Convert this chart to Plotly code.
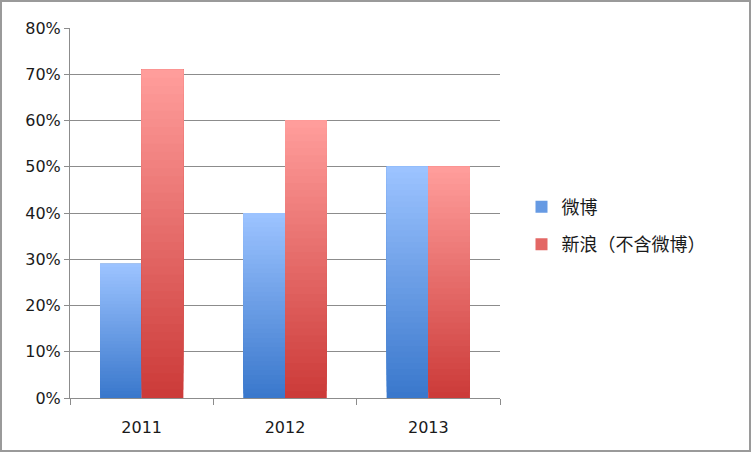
import plotly.graph_objects as go

years = ['2011', '2012', '2013']
weibo = [0.29, 0.40, 0.50]
sina = [0.71, 0.60, 0.50]
series_names = ['微博', '新浪（不含微博）']

# gradient ends (top colour, bottom colour) per series
grad = {
    '微博': ((156, 195, 255), (58, 120, 204)),
    '新浪（不含微博）': ((255, 157, 155), (204, 59, 57)),
}
n_slices = 40


def mix(c1, c2, t):
    return 'rgb(%d,%d,%d)' % tuple(round(a + (b - a) * t) for a, b in zip(c1, c2))


fig = go.Figure()
for name, vals in zip(series_names, [weibo, sina]):
    top, bottom = grad[name]
    # full bar, used for the legend entry (covered by the gradient below)
    fig.add_trace(go.Bar(
        x=years, y=vals, name=name, offsetgroup=name, legendgroup=name,
        marker=dict(color=mix(bottom, top, 0.45), line=dict(width=0)),
    ))
    # vertical gradient: each slice runs from its base up to the bar top,
    # later (lighter) slices painted over the earlier ones
    for k in range(n_slices):
        fig.add_trace(go.Bar(
            x=years,
            y=[v * (1 - k / n_slices) for v in vals],
            base=[v * k / n_slices for v in vals],
            offsetgroup=name, legendgroup=name, showlegend=False,
            hoverinfo='skip',
            marker=dict(color=mix(bottom, top, k / (n_slices - 1)), line=dict(width=0)),
        ))

fig.update_layout(
    width=752, height=453,
    barmode='group', bargap=0.42, bargroupgap=0,
    plot_bgcolor='white', paper_bgcolor='white',
    margin=dict(l=70, r=252, t=28, b=55),
    font=dict(family='DejaVu Sans, Noto Sans CJK SC', size=16, color='#1a1a1a'),
    showlegend=True,
    legend=dict(x=1.05, y=0.566, xanchor='left', yanchor='top',
                tracegroupgap=11, traceorder='grouped',
                font=dict(family='Noto Sans CJK SC', size=18)),
    shapes=[dict(type='rect', xref='paper', yref='paper',
                 x0=-(70 - 1) / 430, x1=(752 - 70 - 2) / 430,
                 y0=-(55 - 2) / 370, y1=(370 + 28 - 1) / 370,
                 line=dict(color='#9a9a9a', width=2))],
)
fig.update_xaxes(
    type='category', showline=True, linecolor='#8c8c8c', linewidth=1,
    ticks='outside', tickson='boundaries', ticklen=6, tickcolor='#8c8c8c',
    ticklabelstandoff=15, showgrid=False,
)
fig.update_yaxes(
    range=[0, 0.8], dtick=0.1, tickformat='.0%',
    showline=True, linecolor='#8c8c8c', linewidth=1,
    ticks='outside', ticklen=5, tickcolor='#8c8c8c',
    showgrid=True, gridcolor='#8c8c8c', gridwidth=1, zeroline=False,
)

fig.write_html('out.html', config={'displayModeBar': False},
               post_script="document.body.style.margin='0';")
